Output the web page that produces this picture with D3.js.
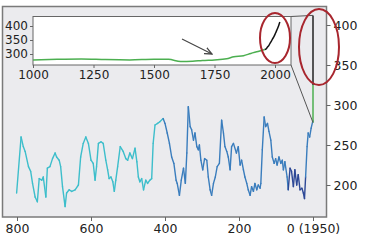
<!DOCTYPE html>
<meta charset="utf-8">
<style>
body { margin: 0; background: #fff; }
text { font-family: "DejaVu Sans", sans-serif; fill: #222; }
</style>
<svg width="378" height="240"></svg>
<script src="https://d3js.org/d3.v7.min.js"></script>
<script>

// ice core CO2, thousands of years before 1950
var ageKyr = [801,789,783,778,769,763,758,751,745,740,733,729,722,718,711,704,697,693,686,682,677,670,666,659,652,643,634,628,621,614,607,600,594,589,585,580,573,567,560,555,551,546,541,537,533,528,521,513,506,501,495,488,481,476,472,468,463,458,452,447,441,436,432,427,420,414,405,400,394,388,382,376,370,367,361,356,350,345,341,337,332,328,323,319,314,310,307,303,298,293,287,283,278,274,269,264,259,253,247,242,238,233,229,224,220,215,207,202,197,193,188,184,179,175,170,166,161,157,152,148,143,141,137,132,128,123,119,114,110,105,101,97,92,87,83,80,76,70,67,62,58,53,49,44,40,35,30,26,23,20,16,13,9,5,1,0];
var co2 = [190,260,248,242,223,217,202,185,179,208,206,210,185,221,223,233,240,235,231,223,198,173,190,194,192,194,200,235,252,260,252,231,227,206,223,252,254,252,231,219,208,210,204,192,206,223,248,242,233,231,240,233,246,229,210,204,208,194,206,202,206,208,252,275,277,279,283,277,265,252,235,227,206,202,187,206,221,202,240,298,273,269,256,265,248,244,250,231,219,233,231,210,194,187,202,210,223,227,281,265,248,242,235,219,248,252,240,248,225,231,219,210,202,194,187,198,192,202,194,200,196,202,244,285,273,277,267,256,235,227,233,225,235,227,231,219,229,210,194,221,217,198,219,200,213,194,196,190,183,210,248,265,260,271,279,280];

// instrumental era at age 0
var modernGreen = [278, 325];
var modernBlack = [325, 412];

// inset: last millennium
var insetYearGreen = [1000,1100,1200,1300,1400,1500,1560,1610,1660,1700,1750,1800,1830,1870,1900,1930,1958];
var insetCo2Green = [279,281,282,280,279,281,281,273,274,277,279,283,290,294,302,309,316];
var insetYearBlack = [1958,1965,1970,1975,1980,1985,1990,1995,2000,2005,2010,2015,2020];
var insetCo2Black = [316,320,326,331,339,346,354,361,370,380,390,401,414];

var mainTicksX = [800, 600, 400, 200, 0];
var mainTicksY = [200, 250, 300, 350, 400];
var insetTicksX = [1000, 1250, 1500, 1750, 2000];
var insetTicksY = [300, 350, 400];

var svg = d3.select("svg");

var x = d3.scaleLinear().domain([800, 0]).range([17, 313]);
var y = d3.scaleLinear().domain([200, 400]).range([185, 25]);

svg.append("rect")
    .attr("x", 2.5).attr("y", 6.5)
    .attr("width", 324).attr("height", 210.5)
    .attr("fill", "#ebebee")
    .attr("stroke", "#7a7a7a").attr("stroke-width", 1.5);

// colour by age
function colorFor(a) {
  if (a > 408) return "#3dbecb";
  if (a > 66) return "#3a7dbd";
  if (a > 21) return "#2d4896";
  return "#3a7dbd";
}

var pts = ageKyr.map(function(a, i) { return [a, co2[i]]; });
for (var i = 0; i < pts.length - 1; i++) {
  svg.append("line")
      .attr("x1", x(pts[i][0])).attr("y1", y(pts[i][1]))
      .attr("x2", x(pts[i + 1][0])).attr("y2", y(pts[i + 1][1]))
      .attr("stroke", colorFor((pts[i][0] + pts[i + 1][0]) / 2))
      .attr("stroke-width", 1.4)
      .attr("stroke-linecap", "round");
}

svg.append("line")
    .attr("x1", x(0)).attr("x2", x(0))
    .attr("y1", y(modernGreen[0])).attr("y2", y(modernGreen[1]))
    .attr("stroke", "#4caf50").attr("stroke-width", 1.5);
svg.append("line")
    .attr("x1", x(0)).attr("x2", x(0))
    .attr("y1", y(modernBlack[0])).attr("y2", y(modernBlack[1]))
    .attr("stroke", "#222").attr("stroke-width", 1.5);

// axes
var gx = svg.append("g").attr("transform", "translate(0,217)")
    .call(d3.axisBottom(x).tickValues(mainTicksX).tickSize(4).tickPadding(3)
      .tickFormat(function(d) { return d === 0 ? "0 (1950)" : d; }));
var gy = svg.append("g").attr("transform", "translate(326.5,0)")
    .call(d3.axisRight(y).tickValues(mainTicksY).tickSize(4).tickPadding(3));
[gx, gy].forEach(function(g) {
  g.select(".domain").remove();
  g.selectAll("line").attr("stroke", "#666");
  g.selectAll("text").style("font-size", "12.5px").attr("fill", "#222");
});

// inset
var xi = d3.scaleLinear().domain([1000, 2000]).range([33, 275]);
var yi = d3.scaleLinear().domain([300, 400]).range([54, 26]);

// connector lines
svg.append("line").attr("x1", 291).attr("y1", 16.5).attr("x2", x(0)).attr("y2", y(modernBlack[1]))
    .attr("stroke", "#555").attr("stroke-width", 1);
svg.append("line").attr("x1", 291).attr("y1", 65).attr("x2", x(0)).attr("y2", y(modernGreen[0]))
    .attr("stroke", "#555").attr("stroke-width", 1);

svg.append("rect")
    .attr("x", 33).attr("y", 16.5)
    .attr("width", 258).attr("height", 48.5)
    .attr("fill", "#fff")
    .attr("stroke", "#666").attr("stroke-width", 1);

var lineI = d3.line().curve(d3.curveMonotoneX)
    .x(function(d) { return xi(d[0]); })
    .y(function(d) { return yi(d[1]); });

svg.append("path")
    .datum(insetYearGreen.map(function(t, i) { return [t, insetCo2Green[i]]; }))
    .attr("d", lineI).attr("fill", "none")
    .attr("stroke", "#4caf50").attr("stroke-width", 1.5);
svg.append("path")
    .datum(insetYearBlack.map(function(t, i) { return [t, insetCo2Black[i]]; }))
    .attr("d", lineI).attr("fill", "none")
    .attr("stroke", "#111").attr("stroke-width", 1.5);

var gxi = svg.append("g").attr("transform", "translate(0,65)")
    .call(d3.axisBottom(xi).tickValues(insetTicksX).tickSize(3).tickPadding(2).tickFormat(d3.format("d")));
var gyi = svg.append("g").attr("transform", "translate(33,0)")
    .call(d3.axisLeft(yi).tickValues(insetTicksY).tickSize(3).tickPadding(2));
[gxi, gyi].forEach(function(g) {
  g.select(".domain").remove();
  g.selectAll("line").attr("stroke", "#666");
  g.selectAll("text").style("font-size", "12px").attr("fill", "#222");
});

// arrow
svg.append("defs").append("marker")
    .attr("id", "ah").attr("viewBox", "0 0 10 10")
    .attr("refX", 9).attr("refY", 5)
    .attr("markerWidth", 7).attr("markerHeight", 7)
    .attr("orient", "auto")
  .append("path").attr("d", "M0,1 L9,5 L0,9").attr("fill", "none")
    .attr("stroke", "#444").attr("stroke-width", 1.5);
svg.append("line")
    .attr("x1", 182).attr("y1", 39).attr("x2", 212).attr("y2", 54)
    .attr("stroke", "#444").attr("stroke-width", 1.2)
    .attr("marker-end", "url(#ah)");

// red highlight ellipses
svg.append("ellipse").attr("cx", 275).attr("cy", 38).attr("rx", 15).attr("ry", 25)
    .attr("fill", "none").attr("stroke", "#a8262e").attr("stroke-width", 2);
svg.append("ellipse").attr("cx", 319).attr("cy", 47).attr("rx", 20).attr("ry", 38)
    .attr("fill", "none").attr("stroke", "#a8262e").attr("stroke-width", 2);

</script>
